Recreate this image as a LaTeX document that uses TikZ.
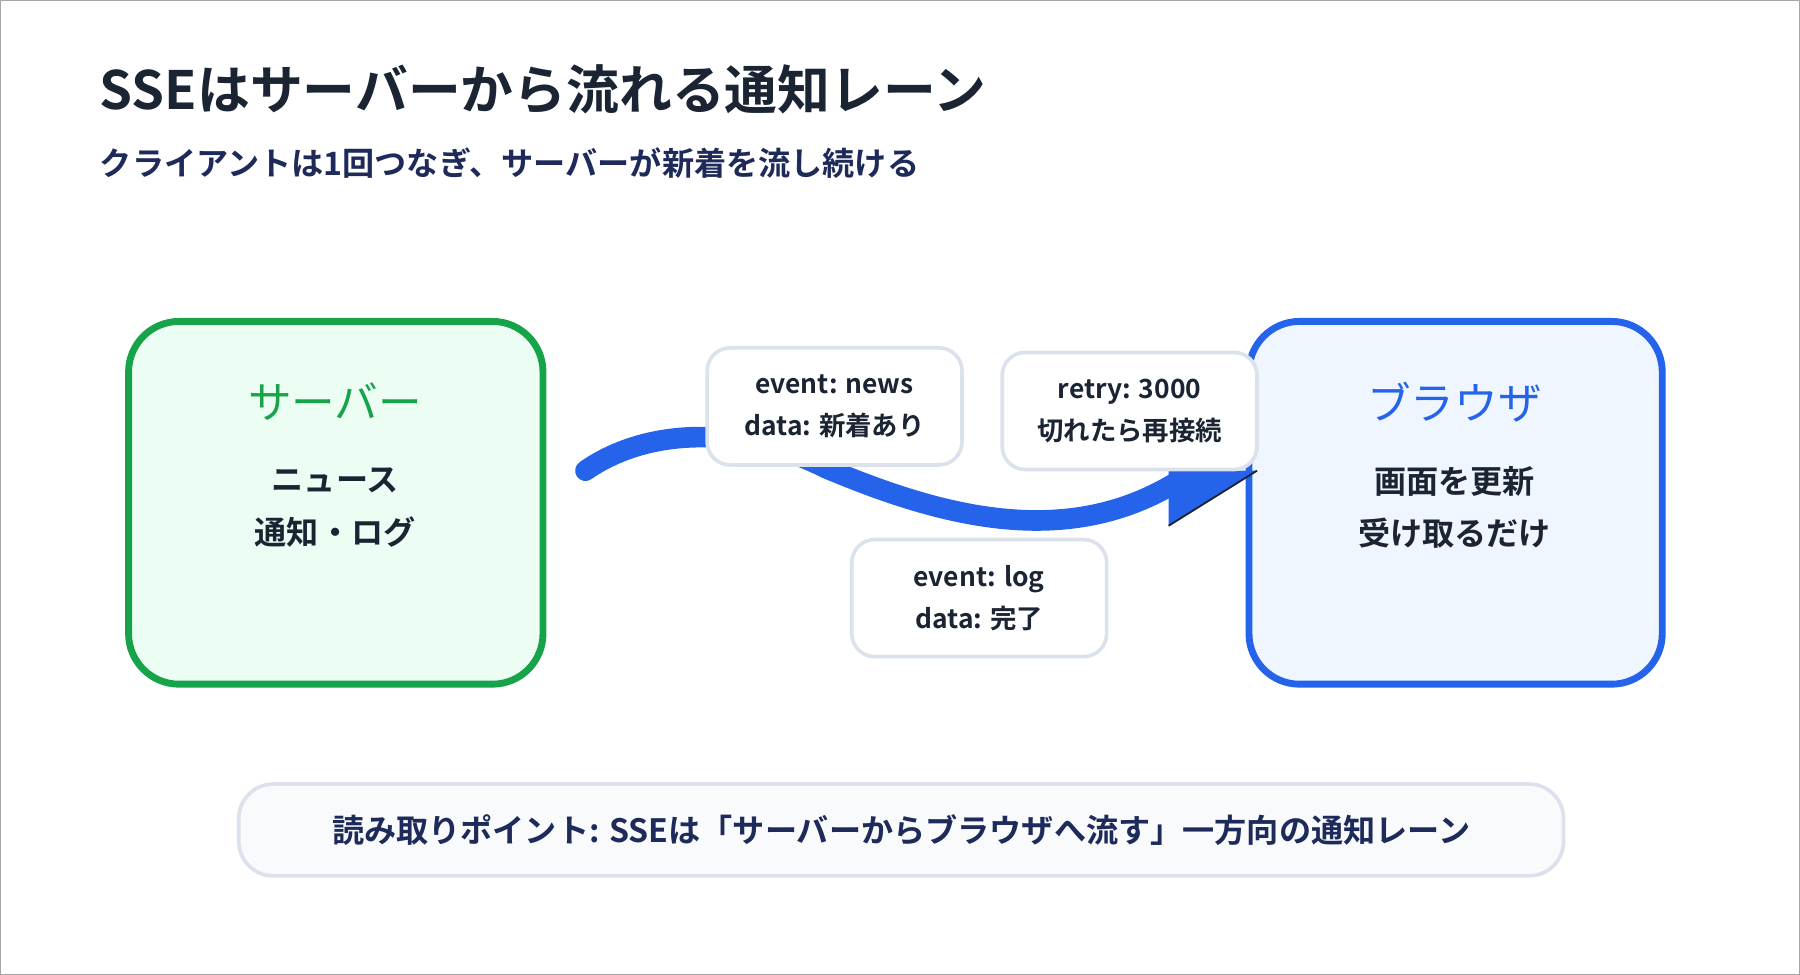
\documentclass[tikz,border=0pt]{standalone}
\usepackage{fontspec}
\setmainfont{Noto Sans CJK JP}[BoldFont={Noto Sans CJK JP Bold}]
\begin{document}
\definecolor{ink}{HTML}{1A2433}
\definecolor{navy}{HTML}{1E2A5A}
\definecolor{grn}{HTML}{16A34A}
\definecolor{grnf}{HTML}{ECFDF3}
\definecolor{blu}{HTML}{2563EB}
\definecolor{bluf}{HTML}{EFF6FF}
\definecolor{lbl}{HTML}{DBE2EC}
\definecolor{bot}{HTML}{F8FAFC}
\begin{tikzpicture}[x=0.5pt,y=-0.5pt,
  big/.style={draw, line width=3pt, rounded corners=22pt},
  lab/.style={draw=lbl, fill=white, line width=1.6pt, rounded corners=10pt, minimum width=111pt, minimum height=51pt, align=center, font=\bfseries\fontsize{11.5}{18}\selectfont, text=ink},
  txt/.style={font=\bfseries\fontsize{14}{23}\selectfont, text=ink, align=center}]
\useasboundingbox (0,0) rectangle (1568,849);
\draw[gray!70, line width=0.8pt] (0,0) rectangle (1568,849);
\node[anchor=west, font=\bfseries\fontsize{23}{28}\selectfont, text=ink] (title) at (80,78) {SSEはサーバーから流れる通知レーン};
\node[anchor=west, font=\bfseries\fontsize{14}{18}\selectfont, text=navy] (sub) at (80,142) {クライアントは1回つなぎ、サーバーが新着を流し続ける};
\draw[big, draw=grn, fill=grnf] (112,280) rectangle (473,596);
\node[font=\fontsize{19}{22}\selectfont, text=grn] (srv) at (292,350) {サーバー};
\node[txt] (srvt) at (292,442) {ニュース\\通知・ログ};
\draw[big, draw=blu, fill=bluf] (1088,280) rectangle (1448,596);
\node[font=\fontsize{19}{22}\selectfont, text=blu] (brw) at (1267,350) {ブラウザ};
\node[txt] (brwt) at (1267,442) {画面を更新\\受け取るだけ};
\coordinate (s) at (510,410);
\coordinate (m) at (720,408);
\coordinate (e) at (1028,418);
\draw[blu, line width=9pt, line cap=round] (s) .. controls (560,375) and (640,368) .. (m) .. controls (820,450) and (930,480) .. (e);
\fill[blu] (1018,410) -- (1095,410) -- (1018,458) -- cycle;
\draw[ink, line width=0.8pt] (1018,458) -- (1095,410);
\node[lab] (n1) at (727,354) {event: news\\data: 新着あり};
\node[lab] (n2) at (984,358) {retry: 3000\\切れたら再接続};
\node[lab] (n3) at (853,521) {event: log\\data: 完了};
\node[draw=lbl, fill=bot, line width=1.6pt, rounded corners=15pt, minimum width=577pt, minimum height=40pt, font=\bfseries\fontsize{14}{18}\selectfont, text=navy] (note) at (785,723) {読み取りポイント: SSEは「サーバーからブラウザへ流す」一方向の通知レーン};
\end{tikzpicture}
\end{document}
